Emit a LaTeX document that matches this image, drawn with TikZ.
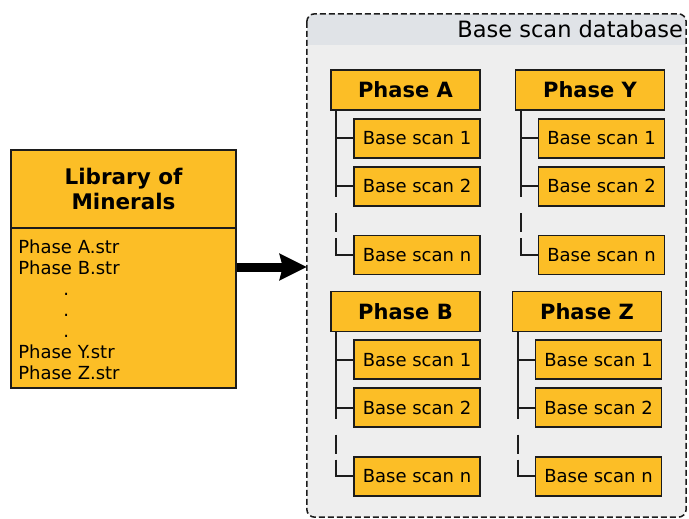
\documentclass[tikz,border=0pt]{standalone}
\usepackage{fontspec}
\setmainfont{DejaVu Sans}
\usetikzlibrary{arrows.meta,positioning}

\definecolor{phaseyellow}{RGB}{252,190,38}
\definecolor{dbgray}{RGB}{238,238,238}
\definecolor{dbhead}{RGB}{224,227,231}
\definecolor{edge}{RGB}{28,28,28}

\tikzset{
  box/.style={draw=edge,line width=1.8pt,fill=phaseyellow,inner sep=0pt},
  phasebox/.style={box,minimum width=149pt,minimum height=40pt,font=\fontsize{21}{25}\selectfont\bfseries},
  scanbox/.style={box,minimum width=126pt,minimum height=39pt,font=\fontsize{18}{21}\selectfont},
  tree/.style={draw=edge,line width=2pt},
  treegap/.style={dash pattern=on 11pt off 16pt on 19pt off 6pt on 200pt},
  dbframe/.style={draw=edge,line width=1.5pt,dash pattern=on 6pt off 3pt,rounded corners=8pt},
}

\begin{document}
\begin{tikzpicture}[x=1pt,y=-1pt,>=Latex]
\useasboundingbox (0,0) rectangle (689,519);

% database container with its header band
\node[fill=dbgray,rounded corners=8pt,minimum width=379pt,minimum height=503pt,inner sep=0pt] (db) at (496.5,265.5) {};
\begin{scope}
  \clip[rounded corners=8pt] (db.north west) rectangle (db.south east);
  \fill[dbhead] (db.north west) rectangle ([yshift=-31pt]db.north east);
\end{scope}
\draw[dbframe] (db.north west) rectangle (db.south east);
\node[anchor=base east,inner sep=0pt,font=\fontsize{22.5}{26}\selectfont] (dbTitle) at ([xshift=-3pt,yshift=-24pt]db.north east) {Base scan database};

% one phase with its base scans
\foreach \p/\x/\y in {A/405.5/90, Y/590/90, B/405.5/311.5, Z/587/311.5} {
  \node[phasebox] (ph\p) at (\x,\y) {Phase \p};
  \node[scanbox,below left=7pt and 0pt of ph\p.south east] (scan\p-1) {Base scan 1};
  \node[scanbox,below=7pt of scan\p-1] (scan\p-2) {Base scan 2};
  \node[scanbox,below=28pt of scan\p-2] (scan\p-n) {Base scan n};
  \draw[tree] ([xshift=6pt]ph\p.south west) |- (scan\p-1.west);
  \draw[tree] ([xshift=6pt]ph\p.south west) |- (scan\p-2.west);
  \draw[tree,treegap] ([xshift=6pt]ph\p.south west |- scan\p-2.west) |- (scan\p-n.west);
}

% mineral library
\node[box,minimum width=225pt,minimum height=238pt] (lib) at (123.5,269) {};
\draw[tree] ([yshift=-79pt]lib.north west) -- ([yshift=-79pt]lib.north east);
\node[align=center,font=\fontsize{21.5}{25}\selectfont\bfseries] (libHead) at ([yshift=-40pt]lib.north) {Library of\\Minerals};
\node[anchor=north west,inner xsep=8pt,inner ysep=12pt,align=left,font=\fontsize{18}{21}\selectfont] (libList) at ([yshift=-79pt]lib.north west)
  {Phase A.str\\Phase B.str\\\hspace*{45pt}.\\\hspace*{45pt}.\\\hspace*{45pt}.\\Phase Y.str\\Phase Z.str};

\draw[line width=9pt,-{Stealth[length=27pt,width=26pt,inset=3pt]}] ([yshift=2pt]lib.east) -- ([yshift=2pt]lib.east -| db.west);
\end{tikzpicture}
\end{document}
